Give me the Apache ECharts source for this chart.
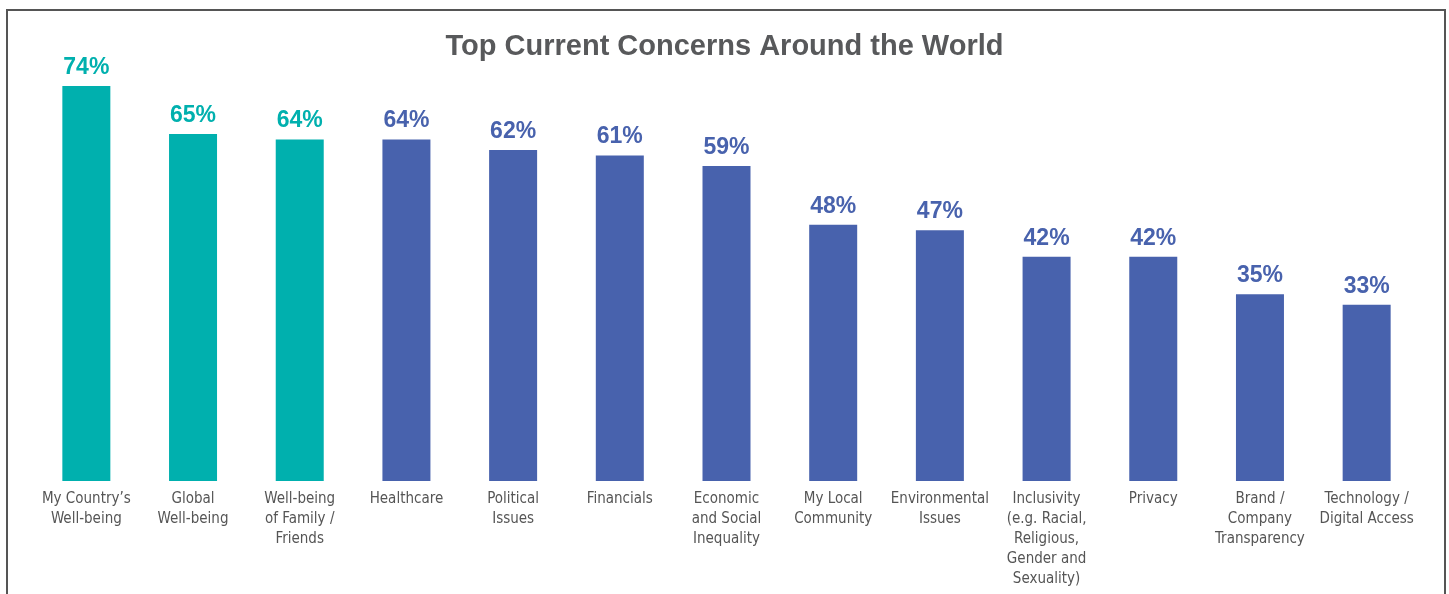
<!DOCTYPE html>
<html>
<head>
<meta charset="utf-8">
<script src="https://cdn.jsdelivr.net/npm/echarts@6/dist/echarts.min.js"></script>
<style>
html,body{margin:0;padding:0;background:#fff;}
#chart{width:1449px;height:594px;}
</style>
</head>
<body>
<div id="chart"></div>
<script>
const categories = [
  "My Country’s\nWell-being",
  "Global\nWell-being",
  "Well-being\nof Family /\nFriends",
  "Healthcare",
  "Political\nIssues",
  "Financials",
  "Economic\nand Social\nInequality",
  "My Local\nCommunity",
  "Environmental\nIssues",
  "Inclusivity\n(e.g. Racial,\nReligious,\nGender and\nSexuality)",
  "Privacy",
  "Brand /\nCompany\nTransparency",
  "Technology /\nDigital Access"
];
const values = [74, 65, 64, 64, 62, 61, 59, 48, 47, 42, 42, 35, 33];
const highlighted = [true, true, true, false, false, false, false, false, false, false, false, false, false];
const TEAL = '#00B0AE';
const BLUE = '#4862AD';

const chart = echarts.init(document.getElementById('chart'));
chart.setOption({
  animation: false,
  title: {
    text: 'Top Current Concerns Around the World',
    left: 'center',
    top: 27,
    textStyle: {
      fontFamily: 'Liberation Sans, Arial, sans-serif',
      fontWeight: 'bold',
      fontSize: 29,
      color: '#58595B'
    }
  },
  graphic: [{
    type: 'rect',
    shape: { x: 7, y: 10, width: 1438, height: 620 },
    style: { fill: 'none', stroke: '#555555', lineWidth: 2 },
    silent: true
  }],
  grid: { left: 33, right: 29, top: 54, bottom: 113 },
  xAxis: {
    type: 'category',
    data: categories,
    axisLine: { show: false },
    axisTick: { show: false },
    axisLabel: {
      interval: 0,
      margin: 8,
      color: '#555555',
      fontFamily: 'Liberation Sans Narrow, DejaVu Sans Condensed, Roboto, sans-serif',
      fontSize: 15,
      lineHeight: 20
    }
  },
  yAxis: {
    type: 'value',
    min: 0,
    max: 80,
    show: false,
    splitLine: { show: false }
  },
  series: [{
    type: 'bar',
    barWidth: 48,
    data: values.map((v, i) => ({
      value: v,
      itemStyle: { color: highlighted[i] ? TEAL : BLUE },
      label: { color: highlighted[i] ? TEAL : BLUE }
    })),
    label: {
      show: true,
      position: 'top',
      distance: 7,
      formatter: '{c}%',
      fontFamily: 'Liberation Sans, Arial, sans-serif',
      fontWeight: 'bold',
      fontSize: 23
    }
  }]
});
</script>
</body>
</html>
